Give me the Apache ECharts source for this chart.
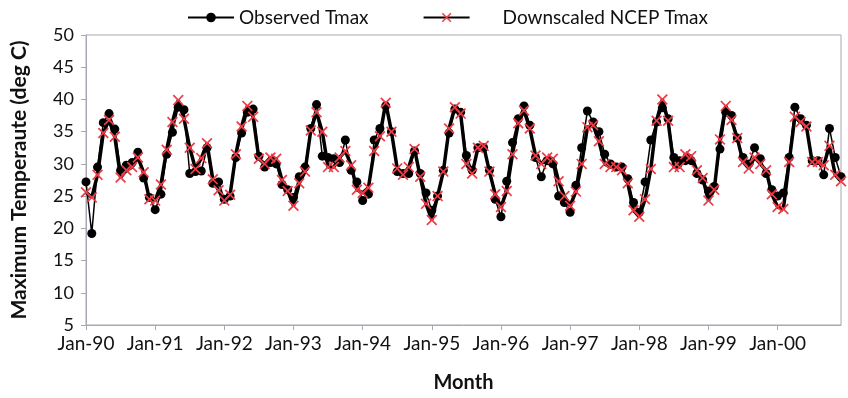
<!DOCTYPE html>
<html>
<head>
<meta charset="utf-8">
<script src="https://cdn.jsdelivr.net/npm/echarts@6/dist/echarts.min.js"></script>
<style>
  html, body { margin: 0; padding: 0; background: #fff; }
  #chart { width: 848px; height: 398px; }
</style>
</head>
<body>
<div id="chart"></div>
<script>
// Monthly maximum temperature, Jan 1990 - Dec 2000 (deg C)
const years = [90, 91, 92, 93, 94, 95, 96, 97, 98, 99, '00'];
const monthNames = ['Jan', 'Feb', 'Mar', 'Apr', 'May', 'Jun', 'Jul', 'Aug', 'Sep', 'Oct', 'Nov', 'Dec'];

const observedTmax = [
  27.2, 19.2, 29.5, 36.4, 37.8, 35.4, 29.0, 29.8, 30.2, 31.8, 27.8, 24.8,
  22.9, 25.3, 31.5, 34.9, 38.8, 38.4, 28.5, 28.8, 28.9, 32.5, 27.0, 27.2,
  24.5, 25.0, 31.0, 34.8, 38.0, 38.5, 31.2, 29.5, 30.2, 30.0, 26.8, 26.0,
  24.8, 28.0, 29.5, 35.5, 39.2, 31.2, 31.0, 30.8, 30.2, 33.7, 29.0, 27.2,
  24.3, 25.3, 33.7, 35.5, 39.0, 35.0, 28.8, 28.5, 28.5, 32.0, 28.5, 25.5,
  22.8, 25.0, 29.0, 34.8, 38.5, 38.0, 31.3, 29.0, 32.5, 32.5, 29.0, 24.5,
  21.8, 27.3, 33.3, 37.0, 39.0, 36.0, 31.0, 28.0, 30.5, 30.0, 25.0, 24.0,
  22.5, 26.7, 32.5, 38.2, 36.5, 35.0, 31.5, 30.0, 29.5, 29.5, 27.7, 24.0,
  22.5, 27.2, 33.7, 36.5, 38.7, 37.0, 31.0, 30.5, 30.5, 30.5, 28.5, 27.5,
  25.8, 26.5, 32.3, 38.0, 37.5, 34.0, 31.0, 30.0, 32.5, 30.8, 28.5, 26.0,
  25.0, 25.5, 31.0, 38.8, 37.0, 36.0, 30.5, 30.5, 28.3, 35.5, 31.0, 28.0
];

const downscaledTmax = [
  25.6, 24.8, 28.3, 34.8, 36.8, 34.2, 27.9, 29.0, 29.5, 31.0, 28.7, 24.5,
  24.3, 26.8, 32.2, 36.5, 39.9, 37.0, 32.5, 29.2, 30.9, 33.2, 27.6, 25.9,
  24.3, 25.2, 31.5, 35.8, 39.0, 37.3, 30.8, 30.0, 31.0, 30.8, 27.5, 25.8,
  23.5, 27.0, 28.8, 35.2, 38.0, 35.0, 29.5, 29.5, 31.0, 32.0, 29.8, 26.0,
  25.5, 26.3, 32.0, 34.3, 39.5, 35.0, 29.3, 28.3, 29.5, 32.3, 28.0, 23.8,
  21.3, 25.0, 28.8, 35.5, 38.8, 37.8, 30.0, 28.5, 32.5, 32.8, 28.8, 25.3,
  23.3, 25.8, 31.5, 36.3, 38.3, 35.5, 31.3, 30.0, 31.0, 30.8, 27.3, 25.0,
  23.5, 25.7, 30.0, 35.7, 36.0, 33.5, 30.0, 29.5, 29.5, 29.0, 27.0, 22.8,
  21.8, 24.5, 29.2, 36.7, 40.0, 36.7, 29.5, 29.5, 31.5, 31.2, 29.0, 27.8,
  24.3, 26.0, 33.8, 39.0, 36.8, 34.0, 30.3, 29.3, 31.0, 30.0, 29.0, 25.3,
  23.3, 23.0, 30.3, 37.3, 36.5, 35.8, 30.3, 30.3, 29.8, 32.8, 28.3, 27.3
];

// Category labels such as "Jan-90"
const months = [];
years.forEach(y => monthNames.forEach(m => months.push(m + '-' + y)));

const FONT = 'Lato';
const AXIS_GREY = '#a7a8b2';
// Red cross marker drawn as a filled outline
const CROSS = 'path://M1.1,0 L5,3.9 L8.9,0 L10,1.1 L6.1,5 L10,8.9 L8.9,10 L5,6.1 L1.1,10 L0,8.9 L3.9,5 L0,1.1 Z';

const chart = echarts.init(document.getElementById('chart'), null, { renderer: 'canvas' });

chart.setOption({
  animation: false,
  backgroundColor: '#ffffff',
  textStyle: { fontFamily: FONT },
  legend: {
    top: 3,
    left: 182,
    itemWidth: 46,
    itemHeight: 12,
    itemGap: 54,
    textStyle: {
      fontFamily: FONT, fontSize: 19, color: '#111',
      rich: { pad: { width: 28 } }
    },
    formatter: name => name === 'Downscaled NCEP Tmax' ? '{pad|}' + name : name,
    data: ['Observed Tmax', 'Downscaled NCEP Tmax']
  },
  grid: {
    left: 86, right: 7, top: 35, bottom: 63,
    show: true, borderColor: AXIS_GREY, borderWidth: 1, containLabel: false
  },
  xAxis: {
    type: 'category',
    data: months,
    boundaryGap: false,
    name: 'Month',
    nameLocation: 'middle',
    nameGap: 48,
    nameTextStyle: { fontFamily: FONT, fontSize: 20, fontWeight: 'bold', color: '#111' },
    axisLine: { lineStyle: { color: AXIS_GREY, width: 1 } },
    axisTick: { show: true, length: 5, interval: (i) => i % 12 === 0, lineStyle: { color: AXIS_GREY } },
    axisLabel: {
      interval: (i) => i % 12 === 0,
      fontFamily: FONT, fontSize: 19, color: '#111', margin: 9
    },
    splitLine: { show: false }
  },
  yAxis: {
    type: 'value',
    min: 5, max: 50, interval: 5,
    name: 'Maximum Temperaute (deg C)',
    nameLocation: 'middle',
    nameGap: 56,
    nameTextStyle: { fontFamily: FONT, fontSize: 21, fontWeight: 'bold', color: '#111' },
    axisLine: { show: true, lineStyle: { color: AXIS_GREY, width: 1 } },
    axisTick: { show: true, length: 5, lineStyle: { color: AXIS_GREY } },
    axisLabel: { fontFamily: FONT, fontSize: 18, color: '#111', margin: 12 },
    splitLine: { show: false }
  },
  series: [
    {
      name: 'Observed Tmax',
      type: 'line',
      data: observedTmax,
      symbol: 'circle',
      symbolSize: 9,
      showAllSymbol: true,
      lineStyle: { color: '#000', width: 1.5 },
      itemStyle: { color: '#000' },
      z: 2
    },
    {
      name: 'Downscaled NCEP Tmax',
      type: 'line',
      data: downscaledTmax,
      symbol: CROSS,
      symbolSize: 11,
      showAllSymbol: true,
      lineStyle: { color: '#000', width: 3.5 },
      itemStyle: { color: '#ee3b45' },
      z: 3
    }
  ]
});
</script>
</body>
</html>
